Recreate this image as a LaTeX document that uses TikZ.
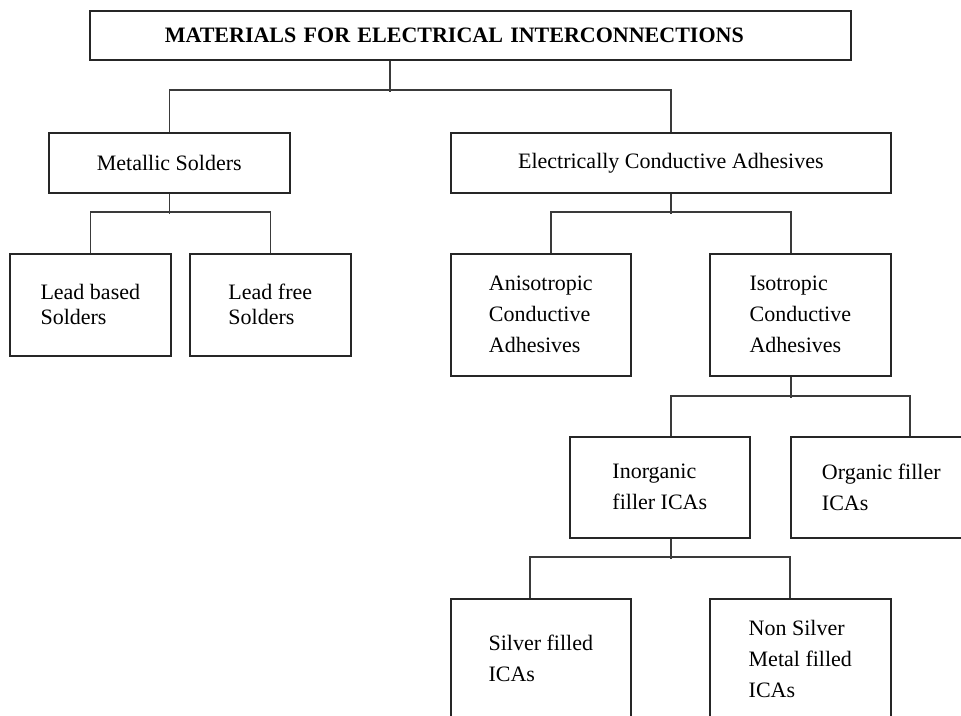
\documentclass[tikz,border=0pt]{standalone}
\usepackage{fontspec}
\setmainfont{Liberation Serif}
\usetikzlibrary{positioning, calc}
\usepackage{xcolor}
\definecolor{boxline}{HTML}{262626}
\definecolor{wireline}{HTML}{3A3A3A}

\begin{document}
\begin{tikzpicture}[x=1pt, y=-1pt, font=\fontsize{22}{31}\selectfont,
    box/.style={draw=boxline, line width=1.6pt, align=left, inner sep=0pt, anchor=north west},
    wire/.style={draw=wireline, line width=1.4pt}]
  \useasboundingbox (0,0) rectangle (961,715);
  \fill[white] (0,0) rectangle (961,715);
  \clip (0,0) rectangle (961,715);

  \node[box, text width=611pt, inner xsep=75pt, minimum height=49pt, font=\fontsize{22}{26}\selectfont\bfseries] (top) at (89,10) {MATERIALS FOR ELECTRICAL INTERCONNECTIONS};
  \node[box, minimum width=241pt, minimum height=60pt] (ms) at (48,132) {Metallic Solders};
  \node[box, minimum width=440pt, minimum height=60pt] (eca) at (450,132) {Electrically Conductive Adhesives};
  \node[box, minimum width=161pt, minimum height=102pt, font=\fontsize{22}{25}\selectfont] (lb) at (9,253) {Lead based\\Solders};
  \node[box, minimum width=161pt, minimum height=102pt, font=\fontsize{22}{25}\selectfont] (lf) at (189,253) {Lead free\\Solders};
  \node[box, minimum width=180pt, minimum height=122pt] (ani) at (450,253) {Anisotropic\\Conductive\\Adhesives};
  \node[box, minimum width=181pt, minimum height=122pt] (iso) at (709,253) {Isotropic\\Conductive\\Adhesives};
  \node[box, minimum width=180pt, minimum height=101pt] (inorg) at (569,436) {Inorganic\\filler ICAs};
  \node[box, minimum width=181pt, minimum height=101pt] (org) at (790,436) {Organic filler\\ICAs};
  \node[box, minimum width=180pt, minimum height=120pt] (silv) at (450,598) {Silver filled\\ICAs};
  \node[box, minimum width=181pt, minimum height=120pt] (nons) at (709,598) {Non Silver\\Metal filled\\ICAs};

  \draw[wire] ([xshift=-80.5pt]top.south) -- ++(0,31);
  \draw[wire] (ms.north) -- ++(0,-42) -| (eca.north);
  \draw[wire] (ms.south) -- ++(0,20);
  \draw[wire] (lb.north) -- ++(0,-41) -| (lf.north);
  \draw[wire] (eca.south) -- ++(0,20);
  \draw[wire] ([xshift=10pt]ani.north) -- ++(0,-41) -| ([xshift=-9.5pt]iso.north);
  \draw[wire] ([xshift=-9.5pt]iso.south) -- ++(0,21);
  \draw[wire] ([xshift=11pt]inorg.north) -- ++(0,-40) -| ([xshift=28.5pt]org.north);
  \draw[wire] ([xshift=11pt]inorg.south) -- ++(0,20);
  \draw[wire] ([xshift=-11pt]silv.north) -- ++(0,-41) -| ([xshift=-10.5pt]nons.north);
\end{tikzpicture}
\end{document}
